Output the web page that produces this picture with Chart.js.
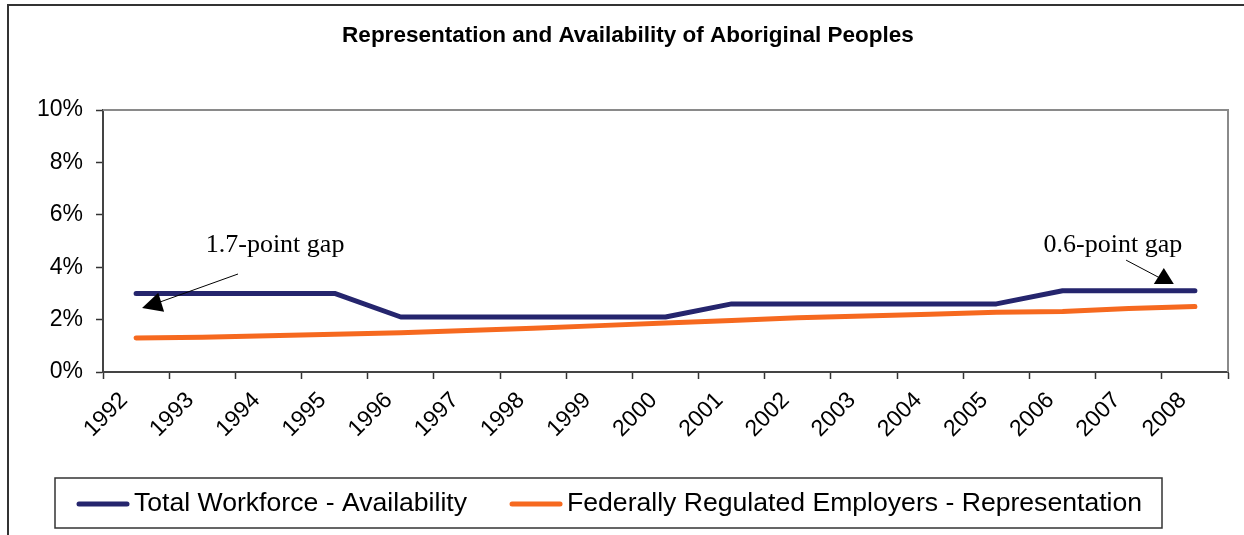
<!DOCTYPE html>
<html>
<head>
<meta charset="utf-8">
<script src="https://cdn.jsdelivr.net/npm/chart.js@4.4.1/dist/chart.umd.min.js"></script>
<style>
  html, body { margin: 0; padding: 0; background: #fff; }
  #wrap { width: 1244px; height: 535px; position: relative; }
  canvas { display: block; }
</style>
</head>
<body>
<div id="wrap"><canvas id="chart" width="1244" height="535"></canvas></div>
<script>
// Aboriginal peoples: availability vs. representation (%)
const years = ['1992', '1993', '1994', '1995', '1996', '1997', '1998', '1999', '2000',
  '2001', '2002', '2003', '2004', '2005', '2006', '2007', '2008'];
const availability = [3.0, 3.0, 3.0, 3.0, 2.1, 2.1, 2.1, 2.1, 2.1, 2.6, 2.6, 2.6, 2.6, 2.6, 3.1, 3.1, 3.1];
const representation = [1.3, 1.33, 1.38, 1.44, 1.5, 1.58, 1.67, 1.77, 1.87, 1.97, 2.07, 2.14, 2.2, 2.28, 2.31, 2.42, 2.5];
const percentTicks = [0, 2, 4, 6, 8, 10];
const seriesNames = ['Total Workforce - Availability', 'Federally Regulated Employers - Representation'];

const NAVY = '#25256d';
const ORANGE = '#f6691f';
const SANS = '"Liberation Sans", Arial, sans-serif';
const SERIF = '"Liberation Serif", "Times New Roman", serif';

// callouts: gap between the two series for a given year (positions in axis units)
const gapNotes = [
  { year: 0, text: [2.1, 4.58], from: [1.54, 3.74], to: [0.36, 2.67], tip: [0.09, 2.44], dir: 163, len: 20 },
  { year: 16, text: [14.76, 4.58], from: [14.96, 4.27], to: [15.47, 3.59], tip: [15.53, 3.97], dir: -90, len: 16 }
];

const decorations = {
  id: 'decorations',
  beforeDraw(chart) {
    const ctx = chart.ctx;
    ctx.save();
    ctx.fillStyle = '#fff';
    ctx.fillRect(0, 0, chart.width, chart.height);
    // outer frame
    ctx.strokeStyle = '#333';
    ctx.lineWidth = 2;
    ctx.beginPath();
    ctx.moveTo(8, chart.height);
    ctx.lineTo(8, 5);
    ctx.lineTo(chart.width, 5);
    ctx.stroke();
    ctx.restore();
  },
  beforeDatasetsDraw(chart) {
    const { ctx, chartArea: a } = chart;
    ctx.save();
    ctx.strokeStyle = '#8a8a8a';
    ctx.lineWidth = 2;
    ctx.beginPath();
    ctx.moveTo(a.left, a.top);
    ctx.lineTo(a.right, a.top);
    ctx.lineTo(a.right, a.bottom);
    ctx.stroke();
    ctx.restore();
  },
  afterDraw(chart) {
    const { ctx, scales: { x, y } } = chart;
    ctx.save();

    // gap callouts
    gapNotes.forEach(n => {
      const gap = (availability[n.year] - representation[n.year]).toFixed(1);
      ctx.font = '26px ' + SERIF;
      ctx.fillStyle = '#000';
      ctx.textAlign = 'center';
      ctx.textBaseline = 'alphabetic';
      ctx.fillText(gap + '-point gap', x.getPixelForValue(n.text[0]), y.getPixelForValue(n.text[1]));

      ctx.strokeStyle = '#000';
      ctx.lineWidth = 1;
      ctx.beginPath();
      ctx.moveTo(x.getPixelForValue(n.from[0]), y.getPixelForValue(n.from[1]));
      ctx.lineTo(x.getPixelForValue(n.to[0]), y.getPixelForValue(n.to[1]));
      ctx.stroke();

      const tx = x.getPixelForValue(n.tip[0]);
      const ty = y.getPixelForValue(n.tip[1]);
      const a = n.dir * Math.PI / 180;
      const bx = tx - n.len * Math.cos(a);
      const by = ty - n.len * Math.sin(a);
      const w = 10;
      ctx.fillStyle = '#000';
      ctx.beginPath();
      ctx.moveTo(tx, ty);
      ctx.lineTo(bx - w * Math.sin(a), by + w * Math.cos(a));
      ctx.lineTo(bx + w * Math.sin(a), by - w * Math.cos(a));
      ctx.closePath();
      ctx.fill();
    });

    // legend box
    const box = { left: 55, top: 478, right: 1162, bottom: 528 };
    ctx.strokeStyle = '#333';
    ctx.lineWidth = 1.5;
    ctx.strokeRect(box.left, box.top, box.right - box.left, box.bottom - box.top);

    ctx.font = '26.6px ' + SANS;
    ctx.textAlign = 'left';
    ctx.textBaseline = 'middle';
    const cy = (box.top + box.bottom) / 2 + 1;
    let cx = box.left + 22;
    chart.data.datasets.forEach(ds => {
      ctx.strokeStyle = ds.borderColor;
      ctx.lineWidth = 5;
      ctx.lineCap = 'round';
      ctx.beginPath();
      ctx.moveTo(cx + 2, cy);
      ctx.lineTo(cx + 50, cy);
      ctx.stroke();
      cx += 57;
      ctx.fillStyle = '#000';
      ctx.fillText(ds.label, cx, cy);
      cx += ctx.measureText(ds.label).width + 43;
    });
    ctx.restore();
  }
};

const chart = new Chart(document.getElementById('chart'), {
  type: 'line',
  data: {
    labels: years,
    datasets: [
      {
        label: seriesNames[0],
        data: availability,
        borderColor: NAVY,
        backgroundColor: NAVY,
        borderWidth: 5,
        borderCapStyle: 'round',
        borderJoinStyle: 'round',
        pointRadius: 0,
        tension: 0
      },
      {
        label: seriesNames[1],
        data: representation,
        borderColor: ORANGE,
        backgroundColor: ORANGE,
        borderWidth: 5,
        borderCapStyle: 'round',
        borderJoinStyle: 'round',
        pointRadius: 0,
        tension: 0
      }
    ]
  },
  options: {
    responsive: false,
    animation: false,
    devicePixelRatio: 1,
    layout: { padding: { left: 28, right: 16, top: 0, bottom: 63 } },
    plugins: {
      legend: { display: false },
      tooltip: { enabled: false },
      title: {
        display: true,
        text: 'Representation and Availability of Aboriginal Peoples',
        color: '#000',
        font: { family: SANS, size: 22.5, weight: 'bold' },
        padding: { top: 22, bottom: 61 }
      }
    },
    scales: {
      x: {
        offset: true,
        grid: {
          offset: true,
          drawOnChartArea: false,
          drawTicks: true,
          tickLength: 7,
          tickColor: '#333',
          tickWidth: 1.5
        },
        border: { color: '#444', width: 2 },
        ticks: {
          autoSkip: false,
          minRotation: 45,
          maxRotation: 45,
          padding: 8,
          labelOffset: -12,
          color: '#000',
          font: { family: SANS, size: 23 }
        },
        afterFit(scale) { scale.height = 100; }
      },
      y: {
        min: 0,
        max: 10,
        afterBuildTicks(scale) { scale.ticks = percentTicks.map(v => ({ value: v })); },
        grid: {
          drawOnChartArea: false,
          drawTicks: true,
          tickLength: 7,
          tickColor: '#333',
          tickWidth: 1.5
        },
        border: { color: '#444', width: 2 },
        ticks: {
          padding: 13,
          color: '#000',
          font: { family: SANS, size: 23 },
          callback: v => v + '%'
        },
        afterFit(scale) { scale.width = 75; }
      }
    }
  },
  plugins: [decorations]
});
</script>
</body>
</html>
